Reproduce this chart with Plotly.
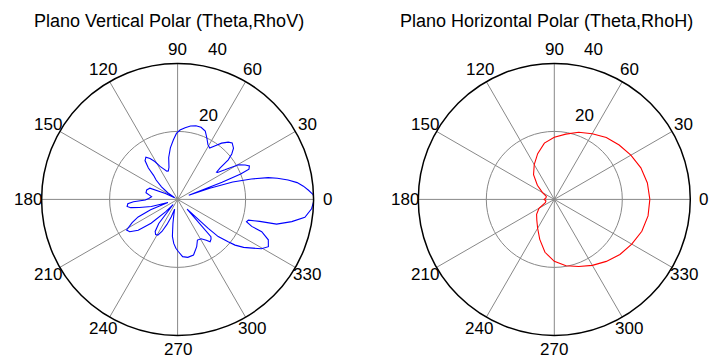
import numpy as np
import plotly.graph_objects as go

# Vertical-plane pattern (angle in degrees, radius)
theta_v = [0, 2, 4, 6, 8, 10, 12, 13.5, 15.5, 17.5, 19, 20, 21, 22, 23, 25, 27,
           29.7, 32, 34, 35, 36.5, 38, 40, 42.5, 46, 48.5, 52, 55, 58, 61, 64.5,
           68, 72, 76, 80, 84, 88, 91, 94, 98, 102, 105, 108, 111, 115, 118, 121,
           124, 127, 130, 133, 135, 138, 142, 146, 150, 154, 158, 163, 168, 171,
           174, 178, 181, 183, 185, 188, 190, 192, 195, 198, 201, 204, 207, 211,
           214, 218, 222, 226, 229, 232, 235, 238, 241, 244, 247, 250, 253, 256,
           259, 262, 265, 268, 271, 275, 280, 286, 292, 296, 301, 305, 307.5,
           310, 311.8, 314.3, 316.6, 317.5, 320, 321.5, 324, 326, 329.5, 332.5,
           336, 339, 340, 342, 343.7, 345, 346, 349, 352, 356, 360]
rho_v = [40.2, 39.9, 38.6, 37.2, 35.5, 33.0, 30.0, 27.4, 22.5, 17.0, 10.0, 3.5,
         14.0, 20.0, 22.8, 23.3, 22.3, 20.6, 16.4, 14.2, 14.0, 15.5, 18.9, 20.8,
         22.3, 23.1, 22.5, 21.0, 19.3, 17.8, 18.4, 20.0, 21.7, 22.3, 22.3, 21.9,
         21.2, 20.4, 19.4, 17.6, 15.3, 12.6, 9.8, 8.8, 8.9, 10.0, 11.0, 13.0,
         14.5, 15.5, 14.9, 12.6, 10.0, 8.5, 6.0, 3.5, 1.0, 4.0, 8.8, 9.5, 9.5,
         8.5, 7.7, 8.5, 9.5, 13.0, 14.7, 15.0, 14.0, 11.5, 8.0, 3.0, 8.5, 12.7,
         15.0, 17.5, 17.0, 14.7, 10.5, 5.0, 2.0, 9.0, 11.5, 12.2, 12.0, 10.5,
         8.0, 5.5, 3.0, 4.5, 7.2, 11.0, 13.0, 14.4, 15.4, 16.9, 17.3, 17.0, 15.0,
         13.3, 13.5, 14.7, 15.7, 15.3, 14.7, 4.0, 12.4, 16.2, 19.4, 21.6, 24.0,
         25.5, 28.6, 30.1, 29.2, 26.5, 23.2, 21.3, 21.7, 25.0, 30.0, 34.2, 37.8,
         39.5, 40.2]

# Horizontal-plane pattern
theta_h = [0, 10, 20, 30, 40, 50, 60, 70, 80, 90, 100, 110, 120, 130, 140, 150,
           160, 170, 180, 190, 200, 210, 220, 230, 240, 250, 260, 270, 280, 290,
           300, 310, 320, 330, 340, 350, 360]
rho_h = [28.1, 27.8, 27.1, 26.0, 24.9, 23.8, 22.3, 21.0, 19.5, 18.3, 16.8, 14.3,
         11.8, 9.5, 6.5, 4.0, 2.5, 2.5, 3.0, 2.5, 2.8, 5.2, 6.8, 8.0, 9.8, 12.5,
         15.8, 18.2, 19.8, 21.0, 22.4, 23.8, 25.2, 26.3, 27.4, 28.0, 28.1]

angle_ticks = list(range(0, 360, 30))
rho_ticks = [20, 40]
titles = ["Plano Vertical Polar (Theta,RhoV)", "Plano Horizontal Polar (Theta,RhoH)"]

W, H = 710, 358
R_PX = 136.0                       # outer ring radius in pixels
centers = [(177.6, 199.4), (554.3, 199.4)]
title_pos = [(168.8, 20.7), (546.7, 20.7)]
FONT = dict(family="Liberation Sans, Arial, sans-serif", size=17, color="black")
TITLE_FONT = dict(family="Liberation Sans, Arial, sans-serif", size=18, color="black")
GRID = "#888888"
RMAX = 40.0

fig = go.Figure()
annotations = []

for i, (cx, cy) in enumerate(centers):
    name = "polar" if i == 0 else "polar2"
    th, rh = (theta_v, rho_v) if i == 0 else (theta_h, rho_h)
    color = "#0000ff" if i == 0 else "#ff0000"
    fig.add_trace(go.Scatterpolar(r=rh, theta=th, mode="lines",
                                  line=dict(color=color, width=1.1),
                                  subplot=name, showlegend=False,
                                  hoverinfo="skip"))
    dom = dict(x=[(cx - R_PX) / W, (cx + R_PX) / W],
               y=[1 - (cy + R_PX) / H, 1 - (cy - R_PX) / H])
    fig.layout[name] = dict(
        domain=dom, bgcolor="white",
        radialaxis=dict(range=[0, RMAX], tickvals=[20], showticklabels=False,
                        ticks="", showline=False, showgrid=True,
                        gridcolor=GRID, gridwidth=1),
        angularaxis=dict(tickvals=angle_ticks, showticklabels=False, ticks="",
                         showgrid=True, gridcolor=GRID, gridwidth=1,
                         showline=True, linecolor="black", linewidth=1.5,
                         rotation=0, direction="counterclockwise"),
    )

    scale = R_PX / RMAX

    def to_paper(x_px, y_px):
        return x_px / W, 1 - y_px / H

    # angle labels just outside the outer ring
    for a in angle_ticks:
        px = cx + 1.1 * RMAX * scale * np.cos(np.radians(a))
        py = cy - 1.1 * RMAX * scale * np.sin(np.radians(a))
        x, y = to_paper(px, py)
        annotations.append(dict(x=x, y=y, xref="paper", yref="paper",
                                text=str(a), showarrow=False, font=FONT,
                                xanchor="center", yanchor="middle"))
    # radius labels, set off from the rings near the 75 degree direction
    for val, (rr, ang) in zip(rho_ticks, [(26.4, 70.0), (45.6, 75.2)]):
        px = cx + rr * scale * np.cos(np.radians(ang))
        py = cy - rr * scale * np.sin(np.radians(ang))
        x, y = to_paper(px, py)
        annotations.append(dict(x=x, y=y, xref="paper", yref="paper",
                                text=str(val), showarrow=False, font=FONT,
                                xanchor="center", yanchor="middle"))
    tx, ty = to_paper(*title_pos[i])
    annotations.append(dict(x=tx, y=ty, xref="paper", yref="paper",
                            text=titles[i], showarrow=False, font=TITLE_FONT,
                            xanchor="center", yanchor="middle"))

fig.update_layout(width=W, height=H, margin=dict(l=0, r=0, t=0, b=0),
                  paper_bgcolor="white", plot_bgcolor="white",
                  annotations=annotations, showlegend=False)

fig.write_html("out.html")
